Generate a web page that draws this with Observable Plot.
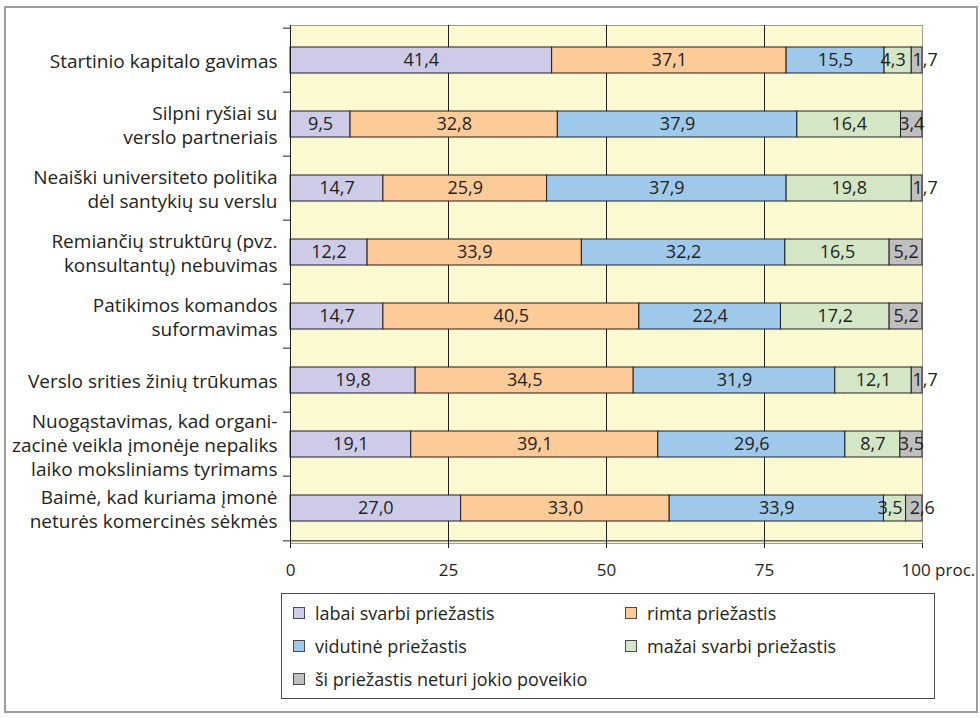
<!DOCTYPE html>
<html lang="lt">
<head>
<meta charset="utf-8">
<script src="https://cdn.jsdelivr.net/npm/d3@7"></script>
<script src="https://cdn.jsdelivr.net/npm/@observablehq/plot@0.6"></script>
<style>
  html, body { margin: 0; padding: 0; background: #fff; }
  body { width: 980px; height: 718px; position: relative; overflow: hidden;
         font-family: "Open Sans", sans-serif; color: #231f20; }
  #frame { position: absolute; left: 4px; top: 6px; width: 970px; height: 703px;
           border: 2px solid #9d9d9d; box-sizing: content-box; }
  #chart { position: absolute; left: 0; top: 0; }
  #legend { position: absolute; left: 281px; top: 593px; width: 654px; height: 106px;
            border: 1px solid #4a4a4a; box-sizing: border-box;
            display: grid; grid-template-columns: 332px 1fr; grid-auto-rows: 33px;
            padding: 2px 0 0 11px; font-size: 18px; }
  #legend .item { display: flex; align-items: center; white-space: nowrap; }
  #legend .sw { width: 10px; height: 10px; border: 1px solid #4a4a4a; margin-right: 10px; flex: none; }
</style>
</head>
<body>
<div id="frame"></div>
<div id="chart"></div>
<div id="legend"></div>
<script>
// Reasons (top to bottom), multi-line labels split with "\n"
const categories = [
  "Startinio kapitalo gavimas",
  "Silpni ryšiai su\nverslo partneriais",
  "Neaiški universiteto politika\ndėl santykių su verslu",
  "Remiančių struktūrų (pvz.\nkonsultantų) nebuvimas",
  "Patikimos komandos\nsuformavimas",
  "Verslo srities žinių trūkumas",
  "Nuogąstavimas, kad organi-\nzacinė veikla įmonėje nepaliks\nlaiko moksliniams tyrimams",
  "Baimė, kad kuriama įmonė\nneturės komercinės sėkmės"
];

// Importance levels (stack order, left to right)
const levels = [
  "labai svarbi priežastis",
  "rimta priežastis",
  "vidutinė priežastis",
  "mažai svarbi priežastis",
  "ši priežastis neturi jokio poveikio"
];
const levelColors = ["#cdcbe7", "#fdcb98", "#9ec9eb", "#d3e7c7", "#bfbfbf"];

// Shares in percent, one array per level, aligned with categories
const labaiSvarbi = [41.4, 9.5, 14.7, 12.2, 14.7, 19.8, 19.1, 27.0];
const rimta       = [37.1, 32.8, 25.9, 33.9, 40.5, 34.5, 39.1, 33.0];
const vidutine    = [15.5, 37.9, 37.9, 32.2, 22.4, 31.9, 29.6, 33.9];
const mazaiSvarbi = [4.3, 16.4, 19.8, 16.5, 17.2, 12.1, 8.7, 3.5];
const neturi      = [1.7, 3.4, 1.7, 5.2, 5.2, 1.7, 3.5, 2.6];

const xTicks = [0, 25, 50, 75, 100];
const xUnit = "proc.";

const series = [labaiSvarbi, rimta, vidutine, mazaiSvarbi, neturi];
const rows = [];
categories.forEach((cat, i) => {
  levels.forEach((level, j) => rows.push({cat, level, value: series[j][i]}));
});

const fmt = v => d3.format(".1f")(v).replace(".", ",");

const W = 980, H = 580;
const mL = 290, mR = 58, mT = 25, mB = 37;
const plotW = W - mL - mR;
const step = (H - mT - mB) / categories.length;
const ink = "#231f20";

// narrow segments at the right end get their labels nudged apart
const lastLevel = levels[levels.length - 1];
const nearLast = levels[levels.length - 2];
const isTinyLast = d => d.level === lastLevel && d.value < 3;
const isTinyNear = d => d.level === nearLast && d.value < 5;
const isRegular = d => !isTinyLast(d) && !isTinyNear(d);

// every label mark stacks all rows, and only prints the labels of its group
const labels = (test, dx = 0) =>
  Plot.text(rows, Plot.stackX({
    x: "value", y: "cat", dx,
    text: d => (test(d) ? fmt(d.value) : null),
    fill: ink, fontSize: 18
  }));

const chart = Plot.plot({
  width: W,
  height: H,
  marginLeft: mL,
  marginRight: mR,
  marginTop: mT,
  marginBottom: mB,
  style: {fontFamily: "'Open Sans', sans-serif", fontSize: "17px", color: ink, background: "transparent", overflow: "visible"},
  x: {domain: [0, 100]},
  y: {domain: categories, paddingInner: 0.6, paddingOuter: 0.3, axis: null},
  color: {domain: levels, range: levelColors},
  marks: [
    // plot area background and its light border
    Plot.frame({fill: "#fcf8d0", stroke: "#9d9d9d"}),
    // vertical grid
    Plot.ruleX([25, 50, 75], {stroke: ink, strokeWidth: 1}),
    // stacked bars
    Plot.barX(rows, Plot.stackX({x: "value", y: "cat", fill: "level", stroke: ink, strokeWidth: 1})),
    // value labels centred in each segment
    labels(isRegular),
    labels(isTinyNear, -5),
    labels(isTinyLast, 8),
    // left axis line
    Plot.ruleX([0], {stroke: ink}),
    // category boundary ticks on the left
    Plot.ruleY(categories, {y: d => d, dy: -step / 2, stroke: ink, insetLeft: -7, insetRight: plotW}),
    // bottom axis line (with its left tick)
    Plot.ruleY(categories.slice(-1), {y: d => d, dy: step / 2, stroke: ink, insetLeft: -7}),
    // category labels
    Plot.text(categories, {y: d => d, text: d => d, frameAnchor: "left", textAnchor: "end", dx: -13,
      lineHeight: 1.24, fontSize: 19, fill: ink}),
    // x axis; the last tick carries the unit
    Plot.axisX({ticks: xTicks, tickSize: 5, tickPadding: 15, fontSize: 17, label: null, stroke: ink, fill: ink,
      tickFormat: d => (d === xTicks[xTicks.length - 1] ? "" : d)}),
    Plot.text(xTicks.slice(-1), {x: d => d, text: d => `${d} ${xUnit}`, frameAnchor: "bottom",
      textAnchor: "start", lineAnchor: "top", dx: -21, dy: 20, fontSize: 17, fill: ink})
  ]
});
document.getElementById("chart").append(chart);

// legend: two columns, filled row by row
const legend = d3.select("#legend");
levels.forEach((level, i) => {
  const item = legend.append("div").attr("class", "item");
  item.append("span").attr("class", "sw").style("background", levelColors[i]);
  item.append("span").text(level);
});
</script>
</body>
</html>
